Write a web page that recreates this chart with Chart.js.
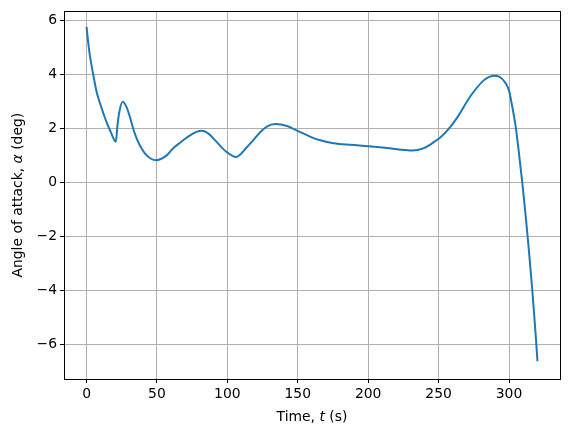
<!DOCTYPE html>
<html>
<head>
<meta charset="utf-8">
<script src="https://cdn.jsdelivr.net/npm/chart.js@4/dist/chart.umd.min.js"></script>
<style>
  html, body { margin: 0; padding: 0; background: #fff; }
  #wrap { width: 569px; height: 435px; position: relative; }
</style>
</head>
<body>
<div id="wrap"><canvas id="c" width="569" height="435"></canvas></div>
<script>
// Time (s)
const timeValues = [0, 2, 4.7, 7, 9.5, 12, 14.2, 17, 20.8, 22, 23.2, 25.6, 28.5, 31, 33.2, 35.5, 37.9, 42.7, 49.3, 56.9, 61, 66.4, 73.5, 78, 81.8, 87, 92.5, 99.6, 106.2, 113.8, 118, 123.3, 128, 134, 142.3, 149.4, 155, 160, 166, 175.5, 187.4, 200.4, 213.5, 222.9, 231.3, 239.5, 246.6, 251.4, 257, 263.3, 272.8, 282.2, 286, 289.5, 293, 297.7, 300, 302.4, 304.8, 307.1, 309.5, 311.9, 314.3, 316.7, 319, 320.2];
// Angle of attack (deg)
const alphaValues = [5.77, 4.85, 4.02, 3.4, 2.95, 2.56, 2.24, 1.9, 1.52, 2.15, 2.6, 3.0, 2.79, 2.4, 1.99, 1.65, 1.38, 1.01, 0.83, 1.01, 1.25, 1.48, 1.75, 1.88, 1.92, 1.8, 1.5, 1.13, 0.95, 1.31, 1.55, 1.87, 2.08, 2.17, 2.1, 1.93, 1.8, 1.68, 1.57, 1.46, 1.4, 1.35, 1.28, 1.22, 1.19, 1.28, 1.5, 1.68, 1.98, 2.42, 3.22, 3.8, 3.92, 3.96, 3.93, 3.68, 3.41, 2.79, 2.05, 1.07, -0.04, -1.27, -2.62, -4.1, -5.7, -6.62];
const xTicks = [0, 50, 100, 150, 200, 250, 300];
const yTicks = [-6, -4, -2, 0, 2, 4, 6];

const points = timeValues.map((t, i) => ({ x: t, y: alphaValues[i] }));
const FONT = "'DejaVu Sans', sans-serif";

const framePlugin = {
  id: 'frame',
  afterDraw(chart) {
    const { ctx, chartArea: a } = chart;
    ctx.save();
    ctx.strokeStyle = '#000';
    ctx.lineWidth = 1;
    ctx.strokeRect(Math.round(a.left) + 0.5, Math.round(a.top) + 0.5, Math.round(a.right - a.left), Math.round(a.bottom - a.top));
    ctx.fillStyle = '#000';
    ctx.textBaseline = 'middle';
    const xsegs = [['Time, ', 'normal'], ['t', 'italic'], [' (s)', 'normal']];
    drawSegs(ctx, xsegs, (a.left + a.right) / 2, 417);
    ctx.translate(18, (a.top + a.bottom) / 2);
    ctx.rotate(-Math.PI / 2);
    const ysegs = [['Angle of attack, ', 'normal'], ['α', 'italic'], [' (deg)', 'normal']];
    drawSegs(ctx, ysegs, 0, 0);
    ctx.restore();
  }
};
function drawSegs(ctx, segs, cx, cy) {
  const size = 13.9;
  let total = 0;
  const widths = segs.map(([s, st]) => { ctx.font = st + ' ' + size + 'px ' + FONT; const w = ctx.measureText(s).width; total += w; return w; });
  let x = cx - total / 2;
  ctx.textAlign = 'left';
  segs.forEach(([s, st], i) => { ctx.font = st + ' ' + size + 'px ' + FONT; ctx.fillText(s, x, cy); x += widths[i]; });
}

new Chart(document.getElementById('c'), {
  type: 'line',
  data: {
    datasets: [{
      data: points,
      borderColor: '#1f77b4',
      borderWidth: 2,
      pointRadius: 0,
      fill: false,
      cubicInterpolationMode: 'monotone'
    }]
  },
  options: {
    responsive: false,
    animation: false,
    events: [],
    layout: { padding: { top: 10, right: 9, left: 0, bottom: 0 } },
    plugins: { legend: { display: false }, tooltip: { enabled: false } },
    scales: {
      x: {
        type: 'linear',
        min: -16.01, max: 336.2,
        afterFit(s) { s.height = 56; },
        afterBuildTicks(s) { s.ticks = xTicks.map(v => ({ value: v })); },
        grid: { color: '#b0b0b0', lineWidth: 1, tickLength: 4, tickColor: '#000', drawOnChartArea: true },
        border: { display: false },
        ticks: { color: '#000', font: { family: FONT, size: 13.9 }, padding: 3, maxRotation: 0, autoSkip: false }
      },
      y: {
        type: 'linear',
        min: -7.28, max: 6.35,
        afterFit(s) { s.width = 64; },
        afterBuildTicks(s) { s.ticks = yTicks.map(v => ({ value: v })); },
        grid: { color: '#b0b0b0', lineWidth: 1, tickLength: 4, tickColor: '#000' },
        border: { display: false },
        ticks: { color: '#000', font: { family: FONT, size: 13.9 }, padding: 3, autoSkip: false,
          callback: v => (v < 0 ? '\u2212' + Math.abs(v) : String(v)) }
      }
    }
  },
  plugins: [framePlugin]
});
</script>
</body>
</html>
